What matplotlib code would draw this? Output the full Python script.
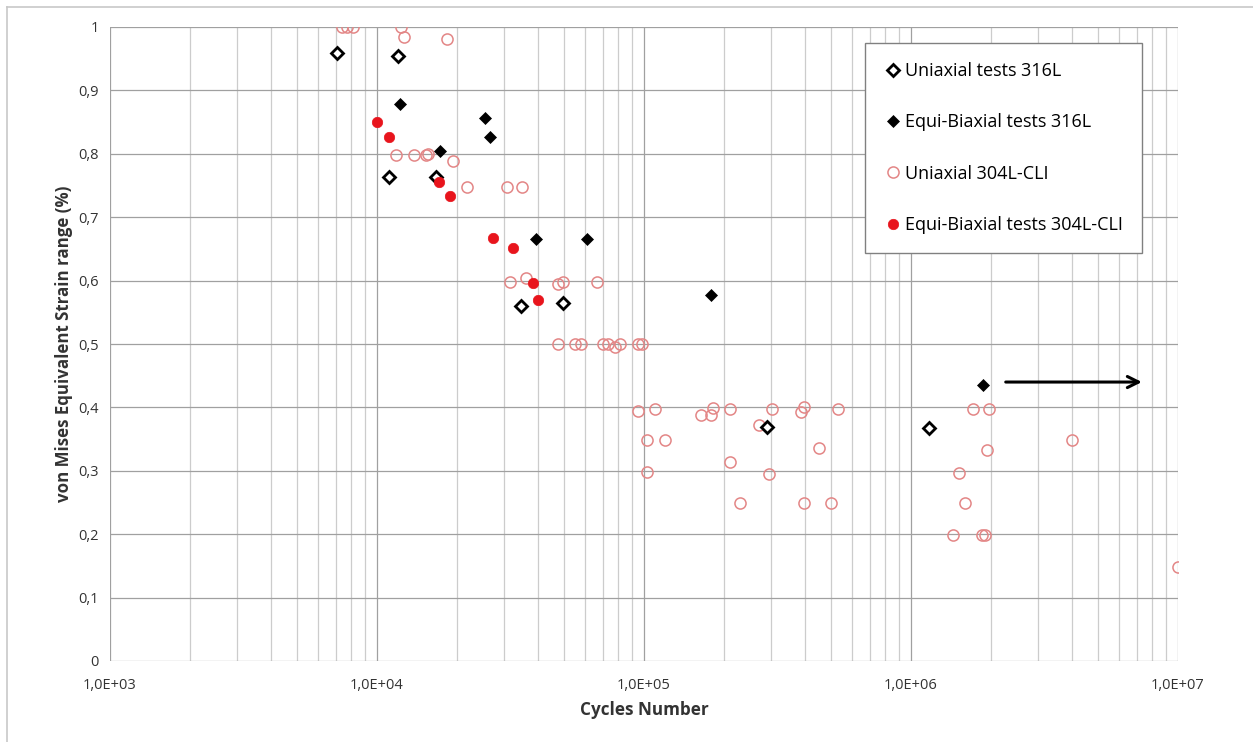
import matplotlib
matplotlib.use("Agg")
import matplotlib.pyplot as plt
from matplotlib.lines import Line2D
from matplotlib.ticker import FixedLocator, LogLocator, NullFormatter

# ---- data ----
uni316_N = [7.1e3, 1.2e4, 1.11e4, 1.66e4, 3.46e4, 4.97e4, 2.89e5, 1.17e6]
uni316_e = [0.959, 0.954, 0.763, 0.763, 0.560, 0.565, 0.369, 0.368]

bi316_N = [1.22e4, 2.54e4, 2.65e4, 1.72e4, 3.94e4, 6.12e4, 1.78e5, 1.86e6]
bi316_e = [0.879, 0.856, 0.826, 0.804, 0.666, 0.666, 0.577, 0.435]

uni304_N = [7.4e3, 7.7e3, 8.1e3, 1.23e4, 1.26e4, 1.83e4,
            1.18e4, 1.38e4, 1.53e4, 1.55e4, 1.93e4, 2.17e4, 3.07e4, 3.48e4,
            3.15e4, 3.61e4, 4.76e4, 4.98e4, 6.67e4,
            4.76e4, 5.5e4, 5.8e4, 7.0e4, 7.3e4, 7.8e4, 8.1e4, 9.5e4, 9.8e4,
            9.5e4, 1.1e5, 1.63e5, 1.78e5, 1.82e5, 2.1e5, 3.02e5, 3.87e5, 3.97e5,
            5.33e5, 1.71e6, 1.96e6,
            2.7e5, 1.03e5, 1.2e5, 4.0e6, 4.52e5, 1.93e6,
            1.03e5, 2.94e5, 1.51e6, 2.1e5,
            2.29e5, 3.97e5, 5.01e5, 1.59e6,
            1.44e6, 1.84e6, 1.89e6, 1.0e7]
uni304_e = [1.0, 1.0, 1.0, 1.0, 0.985, 0.981,
            0.798, 0.798, 0.798, 0.800, 0.789, 0.748, 0.748, 0.748,
            0.598, 0.604, 0.595, 0.598, 0.598,
            0.500, 0.500, 0.500, 0.500, 0.500, 0.495, 0.500, 0.500, 0.500,
            0.394, 0.397, 0.388, 0.388, 0.399, 0.397, 0.397, 0.393, 0.400,
            0.397, 0.397, 0.397,
            0.372, 0.349, 0.349, 0.349, 0.336, 0.333,
            0.298, 0.295, 0.296, 0.314,
            0.249, 0.249, 0.249, 0.249,
            0.199, 0.199, 0.199, 0.148]

bi304_N = [1.0e4, 1.11e4, 1.71e4, 1.88e4, 2.72e4, 3.23e4, 3.84e4, 4.01e4]
bi304_e = [0.850, 0.826, 0.755, 0.733, 0.667, 0.651, 0.596, 0.569]

arrow_N = [2.21e6, 7.5e6]
arrow_e = 0.44

x_ticks = [1e3, 1e4, 1e5, 1e6, 1e7]
x_ticklabels = ["1,0E+03", "1,0E+04", "1,0E+05", "1,0E+06", "1,0E+07"]
y_ticks = [0, 0.1, 0.2, 0.3, 0.4, 0.5, 0.6, 0.7, 0.8, 0.9, 1.0]
y_ticklabels = ["0", "0,1", "0,2", "0,3", "0,4", "0,5", "0,6", "0,7", "0,8", "0,9", "1"]

plt.rcParams['font.family'] = ['Open Sans', 'DejaVu Sans']

fig = plt.figure(figsize=(12.53, 7.42), dpi=100)
ax = fig.add_axes([110/1253, 1-661/742, (1178-110)/1253, (661-27)/742])

# chart-area border (left and top, as in the reference)
fig.add_artist(Line2D([7/1253, 7/1253], [0, 1-7/742], transform=fig.transFigure,
                      color='#c8c8c8', lw=1.2))
fig.add_artist(Line2D([7/1253, 1], [1-7/742, 1-7/742], transform=fig.transFigure,
                      color='#c8c8c8', lw=1.2))

ax.set_xscale('log')
ax.set_xlim(1e3, 1e7)
ax.set_ylim(0, 1)

ax.xaxis.set_major_locator(FixedLocator(x_ticks))
ax.set_xticklabels(x_ticklabels)
ax.xaxis.set_minor_locator(LogLocator(base=10, subs=range(2, 10)))
ax.xaxis.set_minor_formatter(NullFormatter())
ax.set_yticks(y_ticks)
ax.set_yticklabels(y_ticklabels)

ax.grid(which='major', axis='both', color='#a0a0a0', linewidth=0.9)
ax.grid(which='minor', axis='x', color='#cccccc', linewidth=0.9)
ax.set_axisbelow(True)
for s in ax.spines.values():
    s.set_visible(False)
ax.tick_params(which='both', length=0, labelsize=10.5, colors='#333333', pad=8)
ax.tick_params(axis='x', pad=12)

ax.plot(uni304_N, uni304_e, 'o', ls='none', ms=8, mfc='none', mec='#e38686', mew=1.1,
        label='Uniaxial 304L-CLI', zorder=3)
ax.plot(uni316_N, uni316_e, 'D', ls='none', ms=6.5, mfc='white', mec='black', mew=2.0,
        label='Uniaxial tests 316L', zorder=4)
ax.plot(bi316_N, bi316_e, 'D', ls='none', ms=6, mfc='black', mec='black', mew=0.5,
        label='Equi-Biaxial tests 316L', zorder=4)
ax.plot(bi304_N, bi304_e, 'o', ls='none', ms=7.5, mfc='#e8141c', mec='#e8141c', mew=0.5,
        label='Equi-Biaxial tests 304L-CLI', zorder=4)

ax.annotate('', xy=(arrow_N[1], arrow_e), xytext=(arrow_N[0], arrow_e),
            arrowprops=dict(arrowstyle='->', color='black', lw=2.2, mutation_scale=20))

ax.set_xlabel('Cycles Number', fontsize=12.3, fontweight='bold', color='#333333', labelpad=6)
ax.set_ylabel('von Mises Equivalent Strain range (%)', fontsize=12.2, fontweight='bold',
              color='#333333', labelpad=4)

handles, labels = ax.get_legend_handles_labels()
order = [1, 2, 0, 3]
leg = ax.legend([handles[i] for i in order], [labels[i] for i in order],
                loc='upper right', bbox_to_anchor=((1142-110)/1068, (661-43)/634),
                borderaxespad=0, fontsize=13, labelspacing=1.85, handletextpad=0.2,
                handlelength=1.0, borderpad=1.05, fancybox=False, framealpha=1,
                edgecolor='#808080')
leg.get_frame().set_linewidth(1.0)

fig.savefig('out.png', dpi=100)
